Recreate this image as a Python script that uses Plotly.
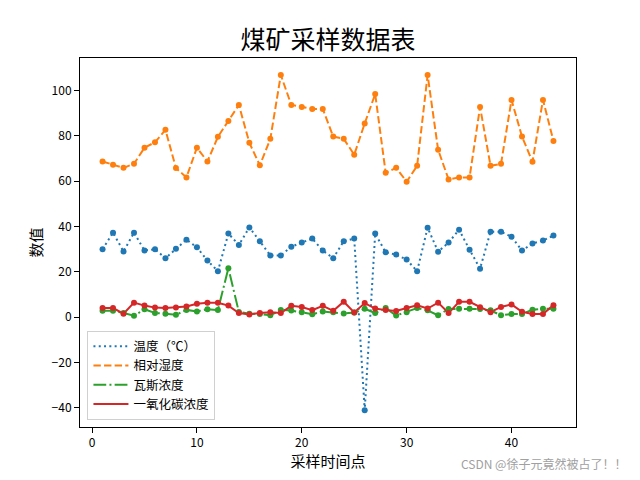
import plotly.graph_objects as go

x_points = list(range(1, 45))

temperature = [30, 37.3, 29, 37.3, 29.4, 30, 26, 30.2, 34.2, 30.8, 25, 20.3, 36.9, 31.9, 39.6,
               33.5, 27.2, 27.2, 31.1, 32.9, 34.7, 29.4, 26, 33.5, 34.7, -41.1, 36.9, 28.6, 27.6, 25.4,
               20.3, 39.5, 28.9, 32.9, 38.6, 29.8, 21.4, 37.7, 37.7, 35.5, 29.4, 32.5, 33.8, 36]
humidity = [68.7, 67.3, 65.9, 67.7, 74.8, 77.2, 82.7, 65.8, 61.7, 74.8, 68.7, 79.6, 86.6, 93.7, 77,
            67, 78.7, 106.9, 93.7, 92.8, 91.9, 91.9, 79.7, 78.7, 71.7, 85.5, 98.5, 63.7, 65.9, 59.8,
            66.8, 106.9, 73.9, 60.8, 61.7, 61.7, 92.8, 66.8, 67.7, 95.9, 79.7, 68.6, 95.9, 77.8]
gas = [2.8, 2.8, 1.8, 0.6, 3.5, 1.8, 1.5, 1.0, 3.2, 2.5, 3.5, 3.1, 21.6, 2.3, 1.5,
       1.4, 0.8, 3.2, 2.9, 2.2, 1.3, 2.5, 2.2, 1.6, 2.0, 3.7, 1.8, 4.0, 0.7, 2.2,
       4.0, 3.0, 0.8, 3.6, 3.7, 3.7, 3.6, 3.0, 0.8, 1.4, 1.4, 3.3, 3.7, 3.7]
co = [4.0, 4.0, 1.5, 6.4, 5.1, 4.2, 4.0, 4.2, 4.7, 5.9, 6.3, 6.3, 5.1, 1.8, 1.2,
      1.8, 2.2, 1.8, 5.0, 4.5, 3.1, 5.0, 2.8, 6.8, 2.1, 6.2, 3.8, 3.1, 2.7, 4.0,
      5.2, 3.8, 6.4, 1.8, 6.8, 6.8, 4.4, 2.2, 4.5, 5.6, 2.4, 1.4, 1.4, 5.3]

series_names = ["温度（℃）", "相对湿度", "瓦斯浓度", "一氧化碳浓度"]
series_values = [temperature, humidity, gas, co]
colors = ["#1f77b4", "#ff7f0e", "#2ca02c", "#d62728"]
dashes = ["2px,3.3px", "7.4px,3.2px", "12.8px,3.2px,2px,3.2px", "solid"]

x_ticks = [0, 10, 20, 30, 40]
y_ticks = [-40, -20, 0, 20, 40, 60, 80, 100]

fig = go.Figure()
for name, vals, c, d in zip(series_names, series_values, colors, dashes):
    fig.add_trace(go.Scatter(x=x_points, y=vals, mode="lines", name=name,
                             line=dict(color=c, width=2, dash=d)))
for name, vals, c in zip(series_names, series_values, colors):
    fig.add_trace(go.Scatter(x=x_points, y=vals, mode="markers", showlegend=False,
                             marker=dict(color=c, size=6), name=name))

axis_common = dict(showline=True, linecolor="black", linewidth=1, mirror=True,
                   ticks="outside", ticklen=5, tickcolor="black", showgrid=False,
                   zeroline=False, tickfont=dict(size=12, color="black"))

fig.update_layout(
    width=640, height=480,
    margin=dict(l=80, r=64, t=57.6, b=52.8),
    paper_bgcolor="white", plot_bgcolor="white",
    font=dict(family="Noto Sans CJK SC", color="black"),
    title=dict(text="煤矿采样数据表", x=0.5, xref="paper", y=1 - 40 / 480, yref="container",
               yanchor="middle", xanchor="center", font=dict(size=25, color="black")),
    xaxis=dict(range=[-1.15, 46.15], tickvals=x_ticks,
               title=dict(text="采样时间点", font=dict(size=15), standoff=7), **axis_common),
    yaxis=dict(range=[-48.5, 114.4], tickvals=y_ticks,
               title=dict(text="数值", font=dict(size=15), standoff=5), **axis_common),
    legend=dict(x=0.015, y=0.02, xanchor="left", yanchor="bottom",
                bgcolor="rgba(255,255,255,0.8)", bordercolor="#d0d0d0", borderwidth=1,
                font=dict(size=12.5), tracegroupgap=0, itemwidth=35),
    annotations=[dict(text="CSDN @徐子元竟然被占了！！", xref="paper", yref="paper",
                      x=(628 - 80) / 496, y=(427.2 - 464) / 369.6, xanchor="right", yanchor="middle",
                      showarrow=False, font=dict(size=12, color="#a0a0a0"))],
)

fig.write_html("out.html", config={"displayModeBar": False},
               post_script="document.body.style.margin='0';")
